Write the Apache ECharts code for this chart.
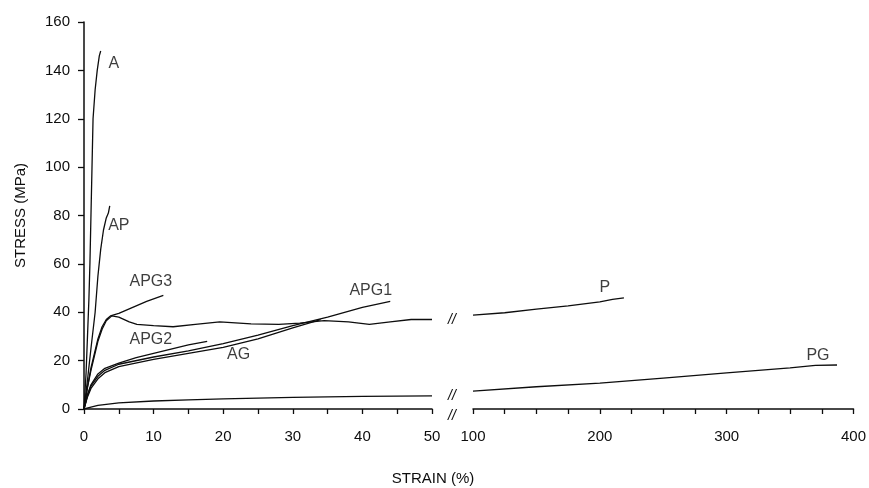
<!DOCTYPE html>
<html>
<head>
<meta charset="utf-8">
<script src="https://cdn.jsdelivr.net/npm/echarts@6/dist/echarts.min.js"></script>
<style>
  html, body { margin: 0; padding: 0; background: #fff; }
  #chart { width: 869px; height: 488px; }
</style>
</head>
<body>
<div id="chart"></div>
<script>
// curves: strain (%) and stress (MPa)
var aStrain = [0, 0.3, 0.5, 0.7, 0.85, 1.0, 1.15, 1.3, 1.6, 1.9, 2.2, 2.4];
var aStress = [0, 15, 30, 45, 60, 80, 100, 120, 132, 140, 146, 148];

var apStrain = [0, 0.5, 1.0, 1.6, 2.0, 2.4, 2.8, 3.2, 3.5, 3.7];
var apStress = [0, 12, 25, 40, 55, 66, 74, 79, 81, 84];

var apg3Strain = [0, 0.5, 1.0, 1.5, 2.0, 2.6, 3.2, 3.8, 5, 7, 9, 11.4];
var apg3Stress = [0, 9, 17, 23, 29, 34, 37, 38.5, 39.5, 42, 44.5, 47];

var pStrain = [0, 0.5, 1.0, 1.5, 2.0, 2.6, 3.2, 4, 5, 6.5, 7.6, 10, 12.8, 16, 19.5, 24, 28, 31, 34.5, 38, 41, 44, 47, 50];
var pStress = [0, 9, 16, 22, 28, 33, 36.5, 38.5, 38, 36, 35, 34.5, 34, 35, 36, 35.2, 35, 35.5, 36.5, 36, 35, 36, 37, 37];
var pStrainHigh = [100, 125, 150, 175, 200, 210, 219];
var pStressHigh = [38.8, 39.8, 41.3, 42.6, 44.3, 45.3, 45.9];

var apg2Strain = [0, 0.5, 1.0, 2.0, 3.0, 5, 7.5, 10, 12.5, 15, 17.7];
var apg2Stress = [0, 6, 10, 14.5, 16.8, 19, 21.2, 23, 24.8, 26.5, 28];

var agStrain = [0, 0.5, 1.0, 2.0, 3.0, 5, 10, 15, 20, 25, 30, 34];
var agStress = [0, 5, 8.5, 12.5, 15, 17.5, 20.5, 23, 25.5, 29, 33.5, 37];

var apg1Strain = [0, 0.5, 1.0, 2.0, 3.0, 5, 10, 15, 20, 25, 30, 35, 40, 44];
var apg1Stress = [0, 5.5, 9.5, 13.5, 16, 18.5, 21.5, 24, 27, 30.5, 34.5, 38, 42, 44.5];

var pgStrain = [0, 1, 2, 5, 10, 15, 20, 30, 40, 50];
var pgStress = [0, 0.8, 1.5, 2.5, 3.3, 3.8, 4.2, 4.8, 5.2, 5.4];
var pgStrainHigh = [100, 150, 200, 250, 300, 350, 370, 387];
var pgStressHigh = [7.4, 9.2, 10.7, 12.8, 14.9, 17, 18, 18.2];

// curve names and where their labels sit (data coordinates)
var labelNames = ['A', 'AP', 'APG3', 'APG2', 'AG', 'APG1', 'P', 'PG'];
var labelStrain = [4.3, 5.0, 9.6, 9.6, 22.2, 41.2, 204, 372];
var labelStress = [143, 76, 52.5, 28.5, 22.3, 49, 50.3, 21.9];
var labelPanel = [0, 0, 0, 0, 0, 0, 1, 1];

function zip(xs, ys) {
    return xs.map(function (x, i) { return [x, ys[i]]; });
}

var fontFamily = '"Liberation Sans", Arial, sans-serif';
var ink = '#0d0d0d';

function curve(name, xs, ys, panel) {
    return {
        name: name,
        type: 'line',
        xAxisIndex: panel,
        yAxisIndex: panel,
        showSymbol: false,
        symbol: 'none',
        silent: true,
        lineStyle: { color: ink, width: 1.3 },
        data: zip(xs, ys)
    };
}

var series = [
    curve('A', aStrain, aStress, 0),
    curve('AP', apStrain, apStress, 0),
    curve('APG3', apg3Strain, apg3Stress, 0),
    curve('P', pStrain, pStress, 0),
    curve('P', pStrainHigh, pStressHigh, 1),
    curve('APG2', apg2Strain, apg2Stress, 0),
    curve('AG', agStrain, agStress, 0),
    curve('APG1', apg1Strain, apg1Stress, 0),
    curve('PG', pgStrain, pgStress, 0),
    curve('PG', pgStrainHigh, pgStressHigh, 1)
];

// curve names as scatter labels
[0, 1].forEach(function (panel) {
    var pts = [];
    labelNames.forEach(function (n, i) {
        if (labelPanel[i] === panel) pts.push({ value: [labelStrain[i], labelStress[i]], name: n });
    });
    series.push({
        type: 'scatter',
        xAxisIndex: panel,
        yAxisIndex: panel,
        symbolSize: 0,
        silent: true,
        label: {
            show: true,
            position: 'inside',
            formatter: '{b}',
            color: ink,
            fontSize: 16,
            fontFamily: fontFamily
        },
        data: pts
    });
});

var axisLine = { show: true, lineStyle: { color: ink, width: 1.5 } };
var tickStyle = { show: true, length: 5, lineStyle: { color: ink, width: 1.3 } };
var tickLabel = { color: ink, fontSize: 15, fontFamily: fontFamily };

var breakMark = { text: '//', fill: ink, fontSize: 14, fontStyle: 'italic', fontFamily: fontFamily, align: 'center', verticalAlign: 'middle' };

var option = {
    animation: false,
    backgroundColor: '#fff',
    grid: [
        { left: 84, top: 22, width: 348, height: 387 },
        { left: 473, top: 22, width: 384, height: 387 }
    ],
    xAxis: [
        {
            type: 'value', gridIndex: 0, min: 0, max: 50, interval: 10,
            axisLine: axisLine,
            axisTick: tickStyle,
            minorTick: { show: true, splitNumber: 2, length: 5, lineStyle: { color: ink, width: 1.3 } },
            axisLabel: Object.assign({ margin: 20 }, tickLabel),
            splitLine: { show: false }
        },
        {
            type: 'value', gridIndex: 1, min: 100, max: 400, interval: 100,
            axisLine: axisLine,
            axisTick: tickStyle,
            minorTick: { show: true, splitNumber: 4, length: 5, lineStyle: { color: ink, width: 1.3 } },
            axisLabel: Object.assign({ margin: 20, showMaxLabel: true }, tickLabel),
            splitLine: { show: false }
        }
    ],
    yAxis: [
        {
            type: 'value', gridIndex: 0, min: 0, max: 160, interval: 20,
            name: 'STRESS (MPa)',
            nameLocation: 'middle',
            nameGap: 56,
            nameTextStyle: { color: ink, fontSize: 15, fontFamily: fontFamily },
            axisLine: axisLine,
            axisTick: { show: true, length: 6, lineStyle: { color: ink, width: 1.3 } },
            axisLabel: Object.assign({ margin: 14 }, tickLabel),
            splitLine: { show: false }
        },
        {
            type: 'value', gridIndex: 1, min: 0, max: 160, interval: 20,
            show: false
        }
    ],
    graphic: [
        {
            type: 'text', x: 433, y: 479,
            style: { text: 'STRAIN (%)', fill: ink, fontSize: 15, fontFamily: fontFamily, align: 'center', verticalAlign: 'middle' }
        },
        { type: 'text', x: 452, y: 320, style: breakMark },
        { type: 'text', x: 452, y: 396, style: breakMark },
        { type: 'text', x: 452, y: 416, style: breakMark }
    ],
    series: series
};

var chart = echarts.init(document.getElementById('chart'), null, { renderer: 'canvas' });
chart.setOption(option);
</script>
</body>
</html>
